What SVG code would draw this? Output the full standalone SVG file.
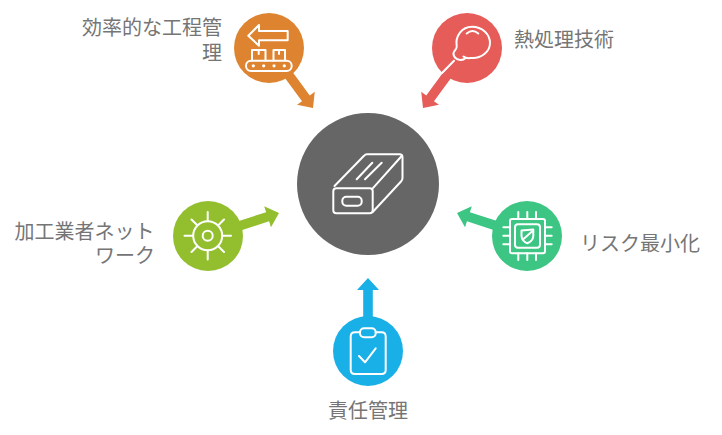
<svg xmlns="http://www.w3.org/2000/svg" width="722" height="435" viewBox="0 0 722 435">
<defs>
<style>
.ic{fill:none;stroke:#fff;stroke-width:2;stroke-linecap:round;stroke-linejoin:round}
.t{font-family:"Noto Sans CJK JP","Noto Sans",sans-serif;font-size:20px;fill:#757575}
</style>
<polygon id="arr" points="0,0 -12,-11 -12,-4.8 -52,-4.8 -52,4.8 -12,4.8 -12,11"/>
</defs>
<rect width="722" height="435" fill="#fff"/>
<g id="connectors">
<use href="#arr" transform="translate(313,108) rotate(53.7)" fill="#DE8431"/>
<use href="#arr" transform="translate(423,108) rotate(126.3)" fill="#E55C58"/>
<use href="#arr" transform="translate(279,213) rotate(-18)" fill="#93BF2F"/>
<use href="#arr" transform="translate(457,213) rotate(198)" fill="#3CC583"/>
<use href="#arr" transform="translate(368,278) rotate(-90)" fill="#18B0E6"/>
</g>
<g id="hub">
<circle cx="368" cy="184" r="71" fill="#666"/>
<g class="ic">
<rect x="333.3" y="188.3" width="39.4" height="25" rx="3"/>
<path d="M334.5 186 L364 155.8 Q365.3 154.3 367 154.3 L399.5 154.3 Q402.5 154.3 402.5 157.3 L402.5 178 Q402.5 180 401 181.5 L372.7 212"/>
<path d="M372.7 188.3 L401.7 156"/>
<rect x="342.3" y="196.7" width="19.4" height="9" rx="4"/>
<path d="M356.7 179.3 L372.3 162.7 M365 179.3 L381.7 162.7"/>
</g>
</g>
<g id="node-efficient">
<circle cx="269" cy="48" r="35" fill="#DE8431"/>
<g class="ic">
<path d="M248.3 35.7 L259 25 L259 31 L287.7 31 L287.7 40.3 L259 40.3 L259 45.7 Z"/>
<path d="M252 60.5 V50 H265.5 V60.5 M273.5 60.5 V50 H285 V60.5 M258.7 50 V54 M279 50 V54"/>
<rect x="246" y="60.7" width="45.7" height="10.3" rx="5"/>
</g>
<g fill="#fff"><circle cx="253.3" cy="65.8" r="1.6"/><circle cx="263.7" cy="65.8" r="1.6"/><circle cx="274" cy="65.8" r="1.6"/><circle cx="284.3" cy="65.8" r="1.6"/></g>
<text class="t" text-anchor="end"><tspan x="222" y="35">効率的な工程管</tspan><tspan x="222" y="60">理</tspan></text>
</g>
<g id="node-heat">
<circle cx="467" cy="48" r="35" fill="#E55C58"/>
<g class="ic">
<path d="M442 73 L454 60.7"/>
<path d="M456.7 46 C455 36 462 26.7 472 26.7 C482 26.7 490 34 490 43 C490 52 481 58.5 472 58 C469 58 466 59 463.5 56.5 M465.5 58 C463 61 457.5 60.5 455 57.5 C453 55 453 53 454.5 51 C456 49 457.2 48 456.7 46"/>
<path d="M466.7 33.5 Q472.5 28.5 478.3 33.5"/>
</g>
<text class="t" x="514" y="47">熱処理技術</text>
</g>
<g id="node-network">
<circle cx="208" cy="236" r="35" fill="#93BF2F"/>
<g class="ic">
<circle cx="207.7" cy="235.7" r="5"/>
<circle cx="207.7" cy="235.7" r="14.5"/>
<path d="M207.7 212 V221 M207.7 250.5 V259.5 M184.5 235.7 H193 M222.5 235.7 H231 M191.5 219.5 L197 225 M224 219.5 L218.5 225 M191.5 252 L197 246.5 M224 252 L218.5 246.5"/>
</g>
<text class="t" text-anchor="end"><tspan x="154.5" y="238.5">加工業者ネット</tspan><tspan x="155" y="262.5">ワーク</tspan></text>
</g>
<g id="node-risk">
<circle cx="527" cy="236" r="35" fill="#3CC583"/>
<g class="ic">
<rect x="510" y="219" width="35" height="34.3" rx="2"/>
<rect x="515" y="224.3" width="25" height="23.4" rx="3"/>
<path d="M518.3 212 V219 M527.3 212 V219 M536 212 V219 M518.3 253.3 V260 M527.3 253.3 V260 M536 253.3 V260 M503.3 227.3 H510 M503.3 235.7 H510 M503.3 244.3 H510 M545 227.3 H551.7 M545 235.7 H551.7 M545 244.3 H551.7"/>
<path d="M521.5 230.5 Q527.3 230 533.3 229.5 L533.3 236 Q533 241 527.3 243.3 Q521.8 241 521.5 236 Z"/>
<path d="M523.5 239 L532 231.5"/>
</g>
<text class="t" x="580" y="251">リスク最小化</text>
</g>
<g id="node-responsibility">
<circle cx="368" cy="351" r="35" fill="#18B0E6"/>
<g class="ic">
<path d="M360 332.3 H355 Q350.7 332.3 350.7 336.5 V370 Q350.7 374 355 374 H381.5 Q385.7 374 385.7 370 V336.5 Q385.7 332.3 381.5 332.3 H375.7"/>
<rect x="360" y="328.3" width="15.7" height="9" rx="4"/>
<path d="M359 356 L365 362.3 L375.7 348.3"/>
</g>
<text class="t" x="328" y="418">責任管理</text>
</g>
</svg>
